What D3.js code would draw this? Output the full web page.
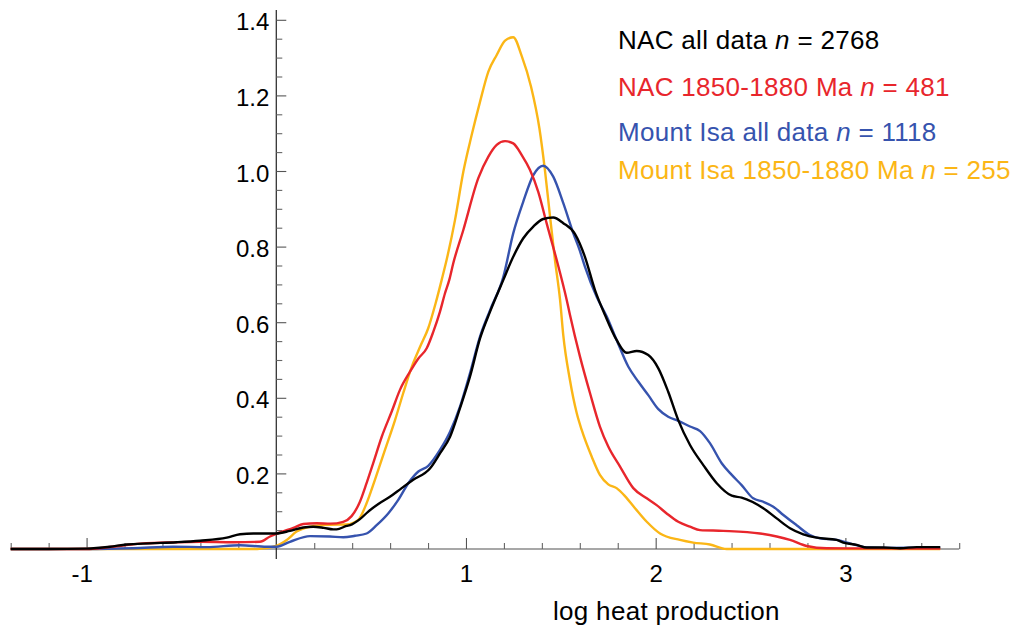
<!DOCTYPE html>
<html><head><meta charset="utf-8">
<script src="https://cdn.jsdelivr.net/npm/d3@7"></script>
<style>
body{margin:0;background:#fff;}
text{font-family:"Liberation Sans",Arial,sans-serif;}
</style></head>
<body><svg id="c" width="1017" height="630"></svg>
<script>
// ---- data (x = log heat production, y = density) ----
const nacAll = [[-1.4,0],[-1.2,0],[-1.0,0.001],[-0.877,0.006],[-0.789,0.012],[-0.666,0.015],[-0.525,0.018],[-0.402,0.022],[-0.261,0.030],[-0.191,0.039],[-0.121,0.041],[0.0,0.041],[0.072,0.048],[0.142,0.057],[0.195,0.059],[0.25,0.056],[0.3,0.052],[0.318,0.052],[0.371,0.061],[0.389,0.063],[0.441,0.079],[0.485,0.099],[0.538,0.119],[0.599,0.138],[0.661,0.161],[0.722,0.183],[0.810,0.213],[0.863,0.253],[0.916,0.297],[0.968,0.372],[1.021,0.456],[1.074,0.557],[1.127,0.628],[1.197,0.712],[1.249,0.773],[1.302,0.822],[1.355,0.853],[1.407,0.873],[1.460,0.877],[1.513,0.862],[1.575,0.833],[1.627,0.773],[1.680,0.685],[1.733,0.619],[1.794,0.553],[1.847,0.519],[1.900,0.524],[1.961,0.513],[2.014,0.478],[2.066,0.416],[2.119,0.341],[2.181,0.275],[2.251,0.222],[2.322,0.174],[2.401,0.141],[2.453,0.136],[2.567,0.108],[2.638,0.081],[2.708,0.055],[2.778,0.039],[2.849,0.030],[2.954,0.024],[2.989,0.017],[3.06,0.011],[3.112,0.004],[3.2,0.004],[3.288,0.002],[3.376,0.005],[3.5,0.005]];
const nac1850 = [[-1.4,0],[-1.0,0],[-0.9,0.004],[-0.8,0.010],[-0.701,0.015],[-0.578,0.017],[-0.402,0.019],[-0.227,0.018],[-0.086,0.019],[-0.033,0.033],[0.02,0.044],[0.09,0.056],[0.142,0.066],[0.213,0.068],[0.285,0.067],[0.353,0.072],[0.397,0.087],[0.441,0.125],[0.476,0.174],[0.511,0.227],[0.556,0.297],[0.608,0.363],[0.652,0.421],[0.705,0.469],[0.749,0.504],[0.793,0.531],[0.828,0.575],[0.863,0.628],[0.889,0.676],[0.912,0.712],[0.933,0.756],[0.986,0.844],[1.065,0.981],[1.118,1.038],[1.162,1.069],[1.206,1.079],[1.249,1.073],[1.294,1.042],[1.337,1.003],[1.381,0.945],[1.425,0.862],[1.478,0.765],[1.531,0.659],[1.548,0.620],[1.601,0.509],[1.654,0.412],[1.706,0.324],[1.750,0.271],[1.812,0.218],[1.882,0.161],[1.953,0.134],[2.005,0.116],[2.058,0.094],[2.119,0.072],[2.181,0.059],[2.234,0.050],[2.356,0.048],[2.550,0.041],[2.638,0.033],[2.708,0.024],[2.796,0.008],[2.901,0.002],[3.5,0.001]];
const isaAll = [[-1.4,0],[-1.0,0],[-0.754,0.002],[-0.543,0.006],[-0.367,0.005],[-0.191,0.010],[-0.051,0.006],[0.002,0.006],[0.072,0.019],[0.178,0.034],[0.283,0.033],[0.353,0.031],[0.415,0.035],[0.476,0.041],[0.529,0.063],[0.590,0.094],[0.643,0.130],[0.696,0.174],[0.749,0.205],[0.801,0.220],[0.863,0.262],[0.916,0.310],[0.968,0.376],[1.021,0.465],[1.074,0.562],[1.127,0.632],[1.197,0.720],[1.249,0.835],[1.302,0.919],[1.355,0.989],[1.407,1.014],[1.460,0.985],[1.513,0.915],[1.566,0.835],[1.601,0.788],[1.627,0.747],[1.689,0.667],[1.742,0.615],[1.794,0.553],[1.856,0.482],[1.908,0.443],[1.961,0.407],[2.014,0.370],[2.066,0.350],[2.119,0.339],[2.181,0.324],[2.234,0.312],[2.286,0.280],[2.348,0.227],[2.401,0.196],[2.453,0.169],[2.514,0.134],[2.567,0.125],[2.620,0.112],[2.673,0.090],[2.743,0.063],[2.813,0.037],[2.866,0.028],[2.954,0.024],[3.024,0.015],[3.112,0.004],[3.2,0.003],[3.5,0.004]];
const isa1850 = [[-1.4,0],[-0.5,0],[-0.1,0],[0.0,0.008],[0.055,0.024],[0.107,0.046],[0.178,0.059],[0.283,0.064],[0.371,0.065],[0.432,0.077],[0.476,0.121],[0.520,0.183],[0.573,0.262],[0.626,0.341],[0.669,0.412],[0.714,0.482],[0.758,0.535],[0.801,0.584],[0.840,0.650],[0.872,0.712],[0.898,0.765],[0.942,0.870],[0.986,0.998],[1.030,1.095],[1.074,1.183],[1.118,1.263],[1.162,1.307],[1.206,1.345],[1.249,1.354],[1.294,1.304],[1.343,1.223],[1.387,1.113],[1.416,1.003],[1.443,0.880],[1.469,0.765],[1.496,0.659],[1.513,0.565],[1.548,0.447],[1.584,0.359],[1.610,0.315],[1.663,0.244],[1.706,0.196],[1.750,0.171],[1.794,0.161],[1.838,0.140],[1.891,0.108],[1.953,0.072],[2.023,0.041],[2.128,0.024],[2.198,0.017],[2.286,0.012],[2.374,0.0],[3.5,0]];

const seriesNames = ["NAC all data", "NAC 1850-1880 Ma", "Mount Isa all data", "Mount Isa 1850-1880 Ma"];
const seriesN = [2768, 481, 1118, 255];
const seriesColors = ["#000000", "#e8262c", "#3653ae", "#fbb616"];
const seriesData = [nacAll, nac1850, isaAll, isa1850];

const xMajorTicks = [-1, 1, 2, 3];
const yMajorTicks = [0.2, 0.4, 0.6, 0.8, 1.0, 1.2, 1.4];
const xLabel = "log heat production";

// ---- layout ----
const svg = d3.select("#c");
const x = d3.scaleLinear().domain([-1.4, 3.6]).range([10.7, 959.2]);
const y = d3.scaleLinear().domain([0, 1.4]).range([549, 19.8]);

const xMinor = d3.range(-14, 37, 2).map(d => d / 10).filter(d => Math.abs(d - Math.round(d)) > 1e-9);
const yMinor = d3.range(1, 29).map(d => d * 0.05).filter(d => Math.abs(d * 5 - Math.round(d * 5)) > 1e-9);

// axis lines
svg.append("line").attr("x1", x(-1.4)).attr("x2", x(3.6)).attr("y1", y(0)).attr("y2", y(0))
  .attr("stroke", "#8a8a8a").attr("stroke-width", 1.3);
svg.append("line").attr("x1", x(0)).attr("x2", x(0)).attr("y1", 10).attr("y2", 559)
  .attr("stroke", "#222").attr("stroke-width", 1.2);

// x axis minor
const gxm = svg.append("g").attr("transform", `translate(0,${y(0)})`)
  .call(d3.axisBottom(x).tickValues(xMinor).tickSize(-6).tickFormat(""));
gxm.select(".domain").remove();
gxm.selectAll("line").attr("stroke", "#666").attr("stroke-width", 1.1);

// x axis major
const gx = svg.append("g").attr("transform", `translate(0,${y(0)})`)
  .call(d3.axisBottom(x).tickValues(xMajorTicks).tickSize(-11).tickPadding(16).tickFormat(d => d < 0 ? "-" + Math.abs(d) : String(d)));
gx.select(".domain").remove();
gx.selectAll("line").attr("stroke", "#555").attr("stroke-width", 1.1);
gx.selectAll("text").attr("font-size", 24).attr("fill", "#000")
  .attr("font-family", "Liberation Sans, Arial, sans-serif")
  .attr("dx", d => d < 0 ? -5 : 0);

// y axis minor
const gym = svg.append("g").attr("transform", `translate(${x(0)},0)`)
  .call(d3.axisLeft(y).tickValues(yMinor).tickSize(-6).tickFormat(""));
gym.select(".domain").remove();
gym.selectAll("line").attr("stroke", "#666").attr("stroke-width", 1.1);

// y axis major
const gy = svg.append("g").attr("transform", `translate(${x(0)},0)`)
  .call(d3.axisLeft(y).tickValues(yMajorTicks).tickSize(-10).tickPadding(7).tickFormat(d3.format(".1f")));
gy.select(".domain").remove();
gy.selectAll("line").attr("stroke", "#555").attr("stroke-width", 1.1);
gy.selectAll("text").attr("font-size", 24).attr("fill", "#000").attr("dy", "0.42em")
  .attr("font-family", "Liberation Sans, Arial, sans-serif");

// x label
svg.append("text").attr("x", 553).attr("y", 620).attr("font-size", 26)
  .attr("letter-spacing", "0.3px").attr("fill", "#000").text(xLabel);

// lines
const line = d3.line().x(d => x(d[0])).y(d => y(d[1])).curve(d3.curveMonotoneX);
const drawOrder = [3, 2, 1, 0];
drawOrder.forEach(i => {
  svg.append("path").datum(seriesData[i]).attr("d", line)
    .attr("fill", "none").attr("stroke", seriesColors[i]).attr("stroke-width", 2.4)
    .attr("stroke-linejoin", "round");
});

// legend
const legendY = [49, 96, 140.5, 179];
seriesNames.forEach((name, i) => {
  const t = svg.append("text").attr("x", 618).attr("y", legendY[i]).attr("font-size", 26)
    .attr("letter-spacing", "0.3px").attr("fill", seriesColors[i]);
  t.append("tspan").text(name + " ");
  t.append("tspan").attr("font-style", "italic").text("n");
  t.append("tspan").text(" = " + seriesN[i]);
});
</script>
</body></html>
